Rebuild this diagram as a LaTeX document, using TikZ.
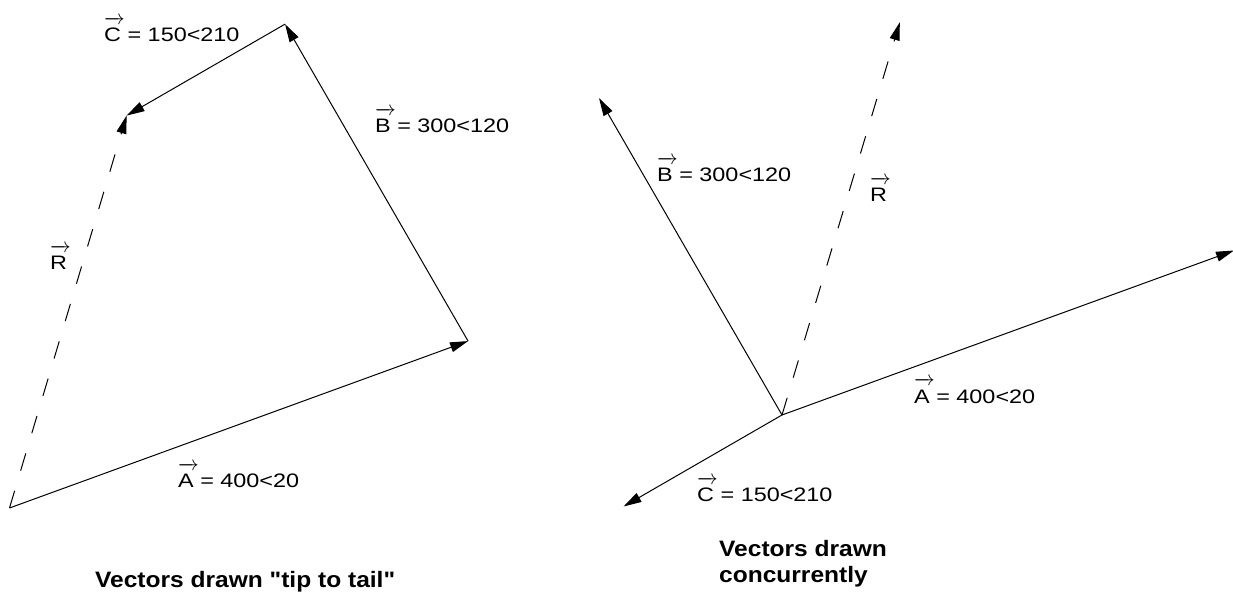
\documentclass[tikz,border=0pt]{standalone}
\usepackage{fontspec}
\usetikzlibrary{arrows.meta,calc}
\newfontfamily\lblfont[FakeStretch=1.2]{Liberation Sans}
\newfontfamily\capfont[FakeStretch=1.1]{Liberation Sans}
\newcommand\vv[1]{\setbox0\hbox{#1}\rlap{\raisebox{0.9em}{\hbox to \wd0{\rightarrowfill}}}\box0\relax}
\tikzset{
  vec/.style={line width=1pt, -{Triangle[length=18pt,width=10pt]}},
  res/.style={vec, dash pattern=on 18pt off 21pt},
  lbl/.style={anchor=base west, inner sep=0pt, font=\lblfont\fontsize{19.5}{22}\selectfont},
  captext/.style={anchor=base west, inner sep=0pt, font=\capfont\bfseries\fontsize{22.3}{26.7}\selectfont}
}
\begin{document}
\begin{tikzpicture}[x=1pt,y=1pt]
\useasboundingbox (0,0) rectangle (1233,593);
% ---------- tip to tail ----------
\coordinate (O1) at (9.5,85);
\coordinate (A1) at ($(O1)+(20:488)$);
\coordinate (B1) at ($(A1)+(120:366)$);
\coordinate (C1) at ($(B1)+(210:183)$);
\draw[vec] (O1) -- (A1);
\draw[vec] (A1) -- (B1);
\draw[vec] (B1) -- (C1);
\draw[res] (O1) -- (C1);
\node[lbl] (lA1) at (178,105) {\vv{A} = 400<20};
\node[lbl] (lB1) at (375,460) {\vv{B} = 300<120};
\node[lbl] (lC1) at (104,551.3) {\vv{C} = 150<210};
\node[lbl] (lR1) at (50,323) {\vv{R}};
\node[captext] (cap1) at (95,5) {Vectors drawn "tip to tail"};
% ---------- concurrent ----------
\coordinate (O2) at (782,178);
\coordinate (A2) at ($(O2)+(20:481)$);
\coordinate (B2) at ($(O2)+(120:366)$);
\coordinate (C2) at ($(O2)+(210:183)$);
\coordinate (R2) at ($(O2)+(73.3:410)$);
\draw[vec] (O2) -- (A2);
\draw[vec] (O2) -- (B2);
\draw[vec] (O2) -- (C2);
\draw[res] (O2) -- (R2);
\node[lbl] (lA2) at (914,189.7) {\vv{A} = 400<20};
\node[lbl] (lB2) at (657,411) {\vv{B} = 300<120};
\node[lbl] (lC2) at (697,91) {\vv{C} = 150<210};
\node[lbl] (lR2) at (870,391.3) {\vv{R}};
\node[captext] (cap2a) at (719,36) {Vectors drawn};
\node[captext] (cap2b) at (719,10) {concurrently};
\end{tikzpicture}
\end{document}
